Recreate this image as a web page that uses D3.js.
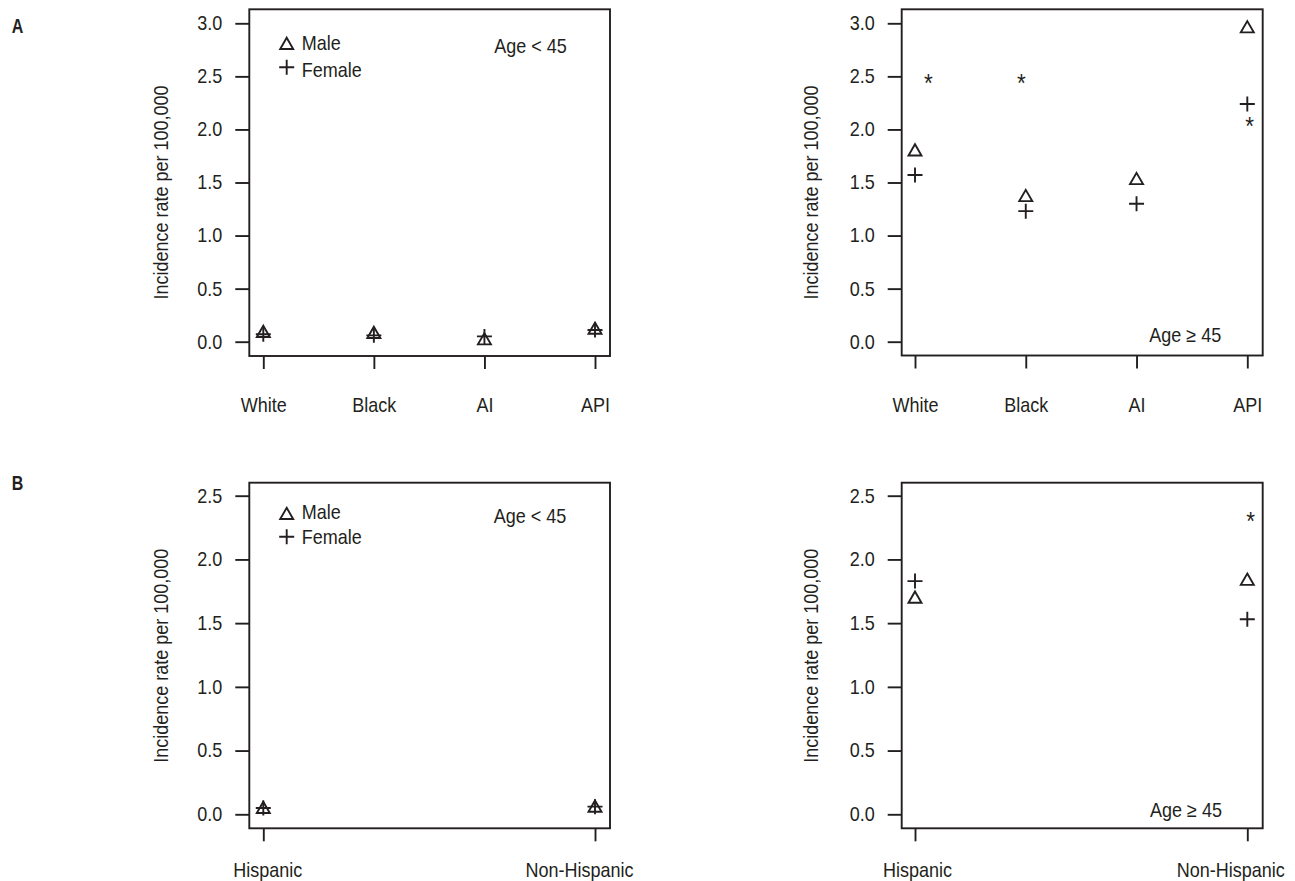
<!DOCTYPE html>
<html><head><meta charset="utf-8">
<script src="https://cdn.jsdelivr.net/npm/d3@7"></script>
<style>
body{margin:0;background:#fff}
svg{display:block}
text{font-family:"Liberation Sans",Arial,sans-serif;fill:#231f20}
</style>
</head><body>
<svg id="chart" width="1295" height="881"></svg>
<script>
// ---------- data ----------
const raceCategories = ["White", "Black", "AI", "API"];
const ethnicityCategories = ["Hispanic", "Non-Hispanic"];
const raceYTicks = [0, 0.5, 1, 1.5, 2, 2.5, 3];
const ethYTicks = [0, 0.5, 1, 1.5, 2, 2.5];

const raceYoungMale   = [0.08, 0.07, 0.01, 0.11];
const raceYoungFemale = [0.07, 0.06, 0.05, 0.11];
const raceOldMale     = [1.79, 1.36, 1.52, 2.95];
const raceOldFemale   = [1.57, 1.23, 1.30, 2.24];
const raceOldStarX    = [1.12, 1.96, 4.02];
const raceOldStarY    = [2.48, 2.48, 2.08];

const ethYoungMale    = [0.04, 0.05];
const ethYoungFemale  = [0.05, 0.06];
const ethOldMale      = [1.69, 1.83];
const ethOldFemale    = [1.83, 1.53];
const ethOldStarX     = [2.01];
const ethOldStarY     = [2.34];

const yLabel = "Incidence rate per 100,000";
const legendLabels = ["Male", "Female"];

// ---------- drawing ----------
const INK = "#231f20";
const K = 0.9; // horizontal condensing of text
const svg = d3.select("#chart");

function txt(g, x, y, s, anchor, size, extra) {
  return g.append("text")
    .attr("transform", `translate(${x},${y}) ${extra || ""} scale(${K},1)`)
    .attr("text-anchor", anchor)
    .attr("font-size", size)
    .text(s);
}
function condense(sel) {
  sel.each(function () {
    const t = d3.select(this);
    const x = +(t.attr("x") || 0);
    t.attr("x", x / K).attr("transform", `scale(${K},1)`);
  });
}
const triPath = (() => {
  const r = 7.5, xc = r * Math.sqrt(3) / 2;
  return `M0,${-r}L${xc},${r / 2}L${-xc},${r / 2}Z`;
})();
const plusPath = "M-7.5,0H7.5M0,-7.5V7.5";

function marker(g, type, x, y) {
  g.append("path")
    .attr("d", type === "tri" ? triPath : plusPath)
    .attr("transform", `translate(${x},${y})`)
    .attr("fill", "none").attr("stroke", INK).attr("stroke-width", 1.9);
}

function panel(o) {
  const g = svg.append("g");
  const n = o.cats.length;
  const x = d3.scaleLinear().domain([1, n]).range([o.x1, o.xN]);
  const y = d3.scaleLinear().domain([0, o.yMax]).range([o.y0, o.yTop]);

  // y axis
  const ya = g.append("g").attr("transform", `translate(${o.left},0)`)
    .call(d3.axisLeft(y).tickValues(o.yTicks).tickFormat(d3.format(".1f"))
      .tickSize(14).tickPadding(13));
  ya.select(".domain").remove();
  ya.selectAll("line").attr("stroke", INK).attr("stroke-width", 1.9);
  ya.selectAll("text").attr("font-size", 20).attr("fill", INK).call(condense);
  ya.attr("font-family", null);

  // x axis
  const xa = g.append("g").attr("transform", `translate(0,${o.bottom})`)
    .call(d3.axisBottom(x).tickValues(d3.range(1, n + 1)).tickFormat(i => o.cats[i - 1])
      .tickSize(13));
  xa.select(".domain").remove();
  xa.selectAll("line").attr("stroke", INK).attr("stroke-width", 1.9);
  xa.selectAll("text").attr("font-size", 20).attr("fill", INK)
    .attr("y", o.xlabOff).attr("dy", 0)
    .attr("x", (d, i) => (o.labShift ? o.labShift[i] : 0))
    .call(condense);
  xa.attr("font-family", null);

  // box
  g.append("rect").attr("x", o.left).attr("y", o.top)
    .attr("width", o.right - o.left).attr("height", o.bottom - o.top)
    .attr("fill", "none").attr("stroke", INK).attr("stroke-width", 1.9);

  // y label
  txt(g, o.ylabX, o.ylabY, yLabel, "middle", 20, "rotate(-90)");

  // markers
  o.male.forEach((v, i) => marker(g, "tri", x(i + 1), y(v)));
  o.female.forEach((v, i) => marker(g, "plus", x(i + 1), y(v)));

  // significance stars
  (o.starX || []).forEach((sx, i) => {
    g.append("text")
      .attr("transform", `translate(${x(sx)},${y(o.starY[i]) + 14}) scale(${K},1)`)
      .attr("text-anchor", "middle").attr("font-size", 25).attr("fill", "#333")
      .text("*");
  });

  // age label
  txt(g, o.ageX, o.ageY, o.ageText, "middle", 20);

  // legend
  if (o.legend) {
    const L = o.legend;
    marker(g, "tri", L.mx, L.triY);
    marker(g, "plus", L.mx, L.plusY);
    txt(g, L.tx, L.maleY, legendLabels[0], "start", 20);
    txt(g, L.tx, L.femaleY, legendLabels[1], "start", 20);
  }
}

// Panel A, age < 45
panel({
  cats: raceCategories, yTicks: raceYTicks, yMax: 3,
  left: 249.3, right: 610, top: 9.3, bottom: 356,
  x1: 263.3, xN: 595, y0: 341.7, yTop: 23.3,
  male: raceYoungMale, female: raceYoungFemale,
  xlabOff: 55.7, ylabX: 168.3, ylabY: 192.5,
  ageText: "Age < 45", ageX: 530.5, ageY: 53.3,
  legend: { mx: 286.7, triY: 45.2, plusY: 67.3, tx: 301.7, maleY: 50, femaleY: 76.7 }
});
// Panel A, age >= 45
panel({
  cats: raceCategories, yTicks: raceYTicks, yMax: 3,
  left: 901.7, right: 1262.7, top: 9.3, bottom: 355.5,
  x1: 915, xN: 1247.3, y0: 341.7, yTop: 23.3,
  male: raceOldMale, female: raceOldFemale,
  starX: raceOldStarX, starY: raceOldStarY,
  xlabOff: 56.2, ylabX: 818.3, ylabY: 192.5,
  ageText: "Age \u2265 45", ageX: 1185.3, ageY: 341.7
});
// Panel B, age < 45
panel({
  cats: ethnicityCategories, yTicks: ethYTicks, yMax: 2.5,
  left: 249.3, right: 610, top: 482.7, bottom: 828.3,
  x1: 263.3, xN: 595, y0: 814.3, yTop: 495.7,
  male: ethYoungMale, female: ethYoungFemale,
  labShift: [4, -16],
  xlabOff: 48.4, ylabX: 168.3, ylabY: 655.8,
  ageText: "Age < 45", ageX: 530, ageY: 523.3,
  legend: { mx: 286.7, triY: 515.3, plusY: 536.7, tx: 301.7, maleY: 519.3, femaleY: 544 }
});
// Panel B, age >= 45
panel({
  cats: ethnicityCategories, yTicks: ethYTicks, yMax: 2.5,
  left: 901.7, right: 1262.7, top: 482.7, bottom: 828.3,
  x1: 915, xN: 1247.3, y0: 814.3, yTop: 495.7,
  male: ethOldMale, female: ethOldFemale,
  starX: ethOldStarX, starY: ethOldStarY,
  labShift: [2, -17],
  xlabOff: 48.4, ylabX: 818.3, ylabY: 655.8,
  ageText: "Age \u2265 45", ageX: 1186, ageY: 817.3
});

// panel letters
svg.append("text").attr("transform", "translate(11.7,33.3) scale(0.8,1)")
  .attr("font-size", 20).attr("font-weight", "bold").text("A");
svg.append("text").attr("transform", "translate(11.7,490) scale(0.8,1)")
  .attr("font-size", 20).attr("font-weight", "bold").text("B");
</script>
</body></html>
